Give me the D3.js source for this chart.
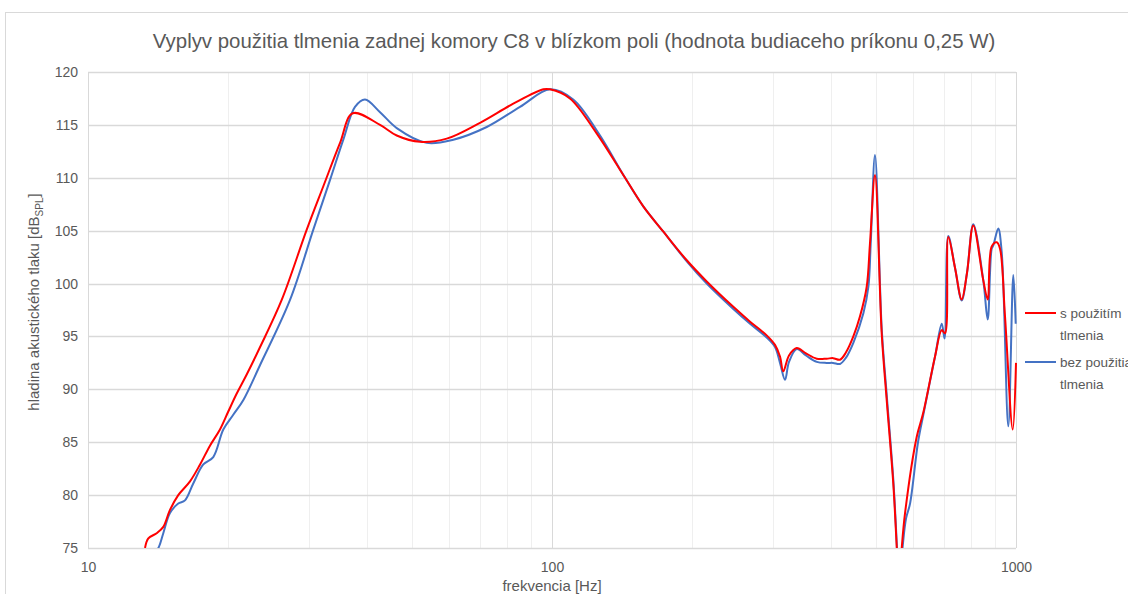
<!DOCTYPE html>
<html>
<head>
<meta charset="utf-8">
<script src="https://cdn.jsdelivr.net/npm/d3@7"></script>
<style>
  body { margin: 0; background: #fff; }
  text { font-family: "Liberation Sans", Arial, sans-serif; fill: #595959; }
</style>
</head>
<body>
<div id="chart"></div>
<script>
// s použitím tlmenia (red)
var redFreq = [13.27, 13.49, 14.06, 14.53, 15.02, 15.65, 16.59, 17.44, 18.33, 19.25, 20.06, 20.92, 21.98, 23.49,
  26.15, 29.61, 32.15, 34.93, 37.2, 42.6, 46.28, 51.95, 59.31, 69.97, 82.52, 95.78, 99.0, 109.3, 124.8,
  143.7, 157.3, 173.8, 195.2, 215.5, 245.9, 267.2, 290.2, 302.4, 310.0, 315.1, 324.2, 336.8, 352.7, 372.0,
  390.9, 403.4, 417.6, 430.2, 446.1, 461.1, 476.7, 484.5, 496.7, 513.5, 526.4, 543.9, 553.3, 559.6, 567.2, 576.6,
  610.9, 631.3, 669.1, 691.7, 703.1, 714.7, 738.8, 763.8, 784.1, 809.0, 850.2, 869.0, 886.4, 908.7, 923.7, 946.9,
  983.8, 1000];
var redDb = [75.0, 75.9, 76.4, 77.0, 78.6, 80.0, 81.3, 82.9, 84.7, 86.2, 87.9, 89.6, 91.4, 94.0,
  98.45, 105.1, 109.2, 113.3, 116.1, 115.0, 114.0, 113.4, 113.7, 115.2, 117.0, 118.36, 118.36, 117.5, 114.2,
  110.0, 107.3, 104.9, 102.2, 100.2, 97.8, 96.4, 95.1, 94.2, 93.1, 91.7, 93.2, 93.9, 93.4, 92.9,
  92.9, 92.95, 92.8, 93.5, 95.0, 96.9, 99.7, 103.8, 110.26, 95.3, 89.0, 81.1, 75.1, 71.0, 75.0, 78.3,
  85.5, 87.8, 93.1, 95.6, 95.3, 104.4, 101.5, 98.5, 101.0, 105.5, 100.3, 98.5, 103.5, 103.9, 103.3, 96.9,
  86.2, 92.5];

// bez použitia tlmenia (blue)
var blueFreq = [13.6, 14.18, 14.53, 15.02, 15.65, 16.18, 16.86, 17.72, 18.62, 19.57, 20.56, 21.62, 23.49,
  27.25, 30.59, 33.24, 35.5, 37.62, 39.54, 42.6, 46.28, 53.7, 61.29, 72.33, 85.31, 99.0, 111.1, 126.0,
  143.7, 157.3, 173.8, 195.2, 215.5, 245.9, 267.2, 290.2, 302.4, 310.0, 317.8, 324.2, 336.8, 352.7, 372.0,
  390.9, 403.4, 417.6, 430.2, 446.1, 468.9, 480.7, 486.3, 496.7, 513.5, 526.4, 543.9, 553.3, 559.6, 569.4,
  579.5, 591.1, 614.9, 631.3, 669.1, 691.7, 701.4, 714.7, 738.8, 763.8, 784.1, 809.0, 850.2, 869.0, 886.4,
  893.5, 915.7, 931.4, 962.5, 986.7, 998.5];
var blueDb = [74.0, 75.0, 76.4, 78.3, 79.2, 79.5, 81.1, 82.9, 83.6, 86.2, 87.6, 89.0, 92.3,
  98.45, 105.1, 109.8, 113.6, 116.7, 117.4, 116.2, 114.7, 113.3, 113.6, 114.8, 116.7, 118.36, 117.4, 114.2,
  110.0, 107.3, 104.9, 102.1, 100.0, 97.6, 96.2, 94.9, 94.0, 92.5, 90.9, 92.6, 93.8, 93.2, 92.6,
  92.5, 92.5, 92.4, 93.0, 94.4, 97.2, 99.7, 103.8, 112.15, 95.8, 89.5, 81.5, 75.5, 71.0, 75.0,
  77.8, 79.2, 85.0, 87.6, 93.1, 96.2, 94.8, 104.5, 101.5, 98.4, 101.0, 105.6, 100.3, 96.6, 103.3,
  103.6, 105.2, 103.0, 86.5, 100.8, 96.2];

var yTicks = [75, 80, 85, 90, 95, 100, 105, 110, 115, 120];
var xTicks = [10, 100, 1000];
var minorTicks = [20, 30, 40, 50, 60, 70, 80, 90, 200, 300, 400, 500, 600, 700, 800, 900];

var width = 1128, height = 594;
var plot = {left: 88, right: 1016, top: 72, bottom: 548};

var svg = d3.select("#chart").append("svg").attr("width", width).attr("height", height);

// chart area frame
svg.append("rect")
    .attr("x", 5.5).attr("y", 12.5)
    .attr("width", width + 20).attr("height", height + 20)
    .attr("fill", "none").attr("stroke", "#d9d9d9");

var x = d3.scaleLog().domain([10, 1000]).range([plot.left, plot.right]);
var y = d3.scaleLinear().domain([75, 120]).range([plot.bottom, plot.top]);

// minor vertical gridlines
svg.append("g").selectAll("line")
  .data(minorTicks)
  .enter().append("line")
    .attr("x1", function(d) { return Math.round(x(d)) + 0.5; })
    .attr("x2", function(d) { return Math.round(x(d)) + 0.5; })
    .attr("y1", plot.top).attr("y2", plot.bottom)
    .attr("stroke", "#efefef").attr("stroke-width", 1);

// major vertical gridlines
svg.append("g").selectAll("line")
  .data(xTicks)
  .enter().append("line")
    .attr("x1", function(d) { return Math.round(x(d)) + 0.5; })
    .attr("x2", function(d) { return Math.round(x(d)) + 0.5; })
    .attr("y1", plot.top).attr("y2", plot.bottom)
    .attr("stroke", "#d9d9d9").attr("stroke-width", 1);

// horizontal gridlines
svg.append("g").selectAll("line")
  .data(yTicks)
  .enter().append("line")
    .attr("x1", plot.left).attr("x2", plot.right)
    .attr("y1", function(d) { return Math.round(y(d)) + 0.5; })
    .attr("y2", function(d) { return Math.round(y(d)) + 0.5; })
    .attr("stroke", "#d9d9d9").attr("stroke-width", 1.5);

// y tick labels
var yAxis = svg.append("g")
    .attr("transform", "translate(" + plot.left + ",0)")
    .call(d3.axisLeft(y).tickValues(yTicks).tickSize(0).tickPadding(10));
yAxis.select(".domain").remove();
yAxis.selectAll("text")
    .style("font-size", "14px")
    .style("font-family", "Liberation Sans, Arial, sans-serif")
    .attr("fill", "#595959");

// x tick labels
var xAxis = svg.append("g")
    .attr("transform", "translate(0," + plot.bottom + ")")
    .call(d3.axisBottom(x).tickValues(xTicks).tickFormat(d3.format("d")).tickSize(0).tickPadding(14));
xAxis.select(".domain").remove();
xAxis.selectAll("text")
    .style("font-size", "14px")
    .style("font-family", "Liberation Sans, Arial, sans-serif")
    .attr("fill", "#595959");

// series lines, clipped to the plot area
svg.append("clipPath").attr("id", "plotClip")
  .append("rect")
    .attr("x", plot.left).attr("y", plot.top - 2)
    .attr("width", plot.right - plot.left + 1).attr("height", plot.bottom - plot.top + 2);

var line = d3.line()
    .x(function(d) { return x(d[0]); })
    .y(function(d) { return y(d[1]); })
    .curve(d3.curveCatmullRom.alpha(0.5));

var blue = d3.zip(blueFreq, blueDb);
var red = d3.zip(redFreq, redDb);

var series = svg.append("g").attr("clip-path", "url(#plotClip)");
series.append("path")
    .datum(blue)
    .attr("d", line)
    .attr("fill", "none").attr("stroke", "#4472c4").attr("stroke-width", 2);
series.append("path")
    .datum(red)
    .attr("d", line)
    .attr("fill", "none").attr("stroke", "#ff0000").attr("stroke-width", 2);

// title
svg.append("text")
    .attr("x", 574).attr("y", 48)
    .attr("text-anchor", "middle")
    .style("font-size", "20.4px")
    .text("Vyplyv použitia tlmenia zadnej komory C8 v blízkom poli (hodnota budiaceho príkonu 0,25 W)");

// axis titles
svg.append("text")
    .attr("x", 552).attr("y", 591)
    .attr("text-anchor", "middle")
    .style("font-size", "15px")
    .text("frekvencia [Hz]");

var yTitle = svg.append("text")
    .attr("transform", "translate(39,302) rotate(-90)")
    .attr("text-anchor", "middle")
    .style("font-size", "15px");
yTitle.append("tspan").text("hladina akustického tlaku [dB");
yTitle.append("tspan").attr("dy", 4).style("font-size", "10px").text("SPL");
yTitle.append("tspan").attr("dy", -4).text("]");

// legend
var legendNames = [["s použitím", "tlmenia"], ["bez použitia", "tlmenia"]];
var legendColors = ["#ff0000", "#4472c4"];
var legendY = [313, 362];

var legend = svg.append("g").selectAll("g")
  .data(legendNames)
  .enter().append("g")
    .attr("transform", function(d, i) { return "translate(1025," + legendY[i] + ")"; });
legend.append("line")
    .attr("x1", 0).attr("x2", 31).attr("y1", 0).attr("y2", 0)
    .attr("stroke", function(d, i) { return legendColors[i]; }).attr("stroke-width", 2);
legend.append("text")
    .attr("x", 35).attr("y", 5)
    .style("font-size", "13.5px")
    .text(function(d) { return d[0]; });
legend.append("text")
    .attr("x", 35).attr("y", 27)
    .style("font-size", "13.5px")
    .text(function(d) { return d[1]; });
</script>
</body>
</html>
